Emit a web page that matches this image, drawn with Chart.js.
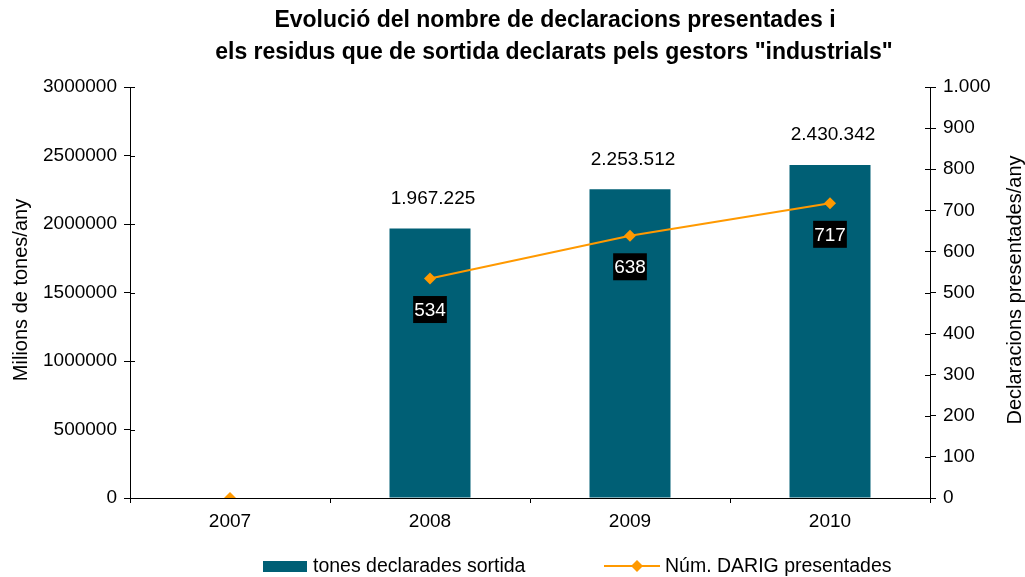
<!DOCTYPE html>
<html>
<head>
<meta charset="utf-8">
<script src="https://cdn.jsdelivr.net/npm/chart.js@4.4.1/dist/chart.umd.min.js"></script>
<style>
  html, body { margin: 0; padding: 0; background: #fff; }
  #wrap { width: 1025px; height: 577px; }
</style>
</head>
<body>
<div id="wrap"><canvas id="myChart" width="1025" height="577"></canvas></div>
<script>
// data
var years = ['2007', '2008', '2009', '2010'];
var tones = [null, 1967225, 2253512, 2430342];
var darig = [0, 534, 638, 717];
var leftTicks = [0, 500000, 1000000, 1500000, 2000000, 2500000, 3000000];
var rightTicks = [0, 100, 200, 300, 400, 500, 600, 700, 800, 900, 1000];

var titleLines = ['Evolució del nombre de declaracions presentades i',
                  'els residus que de sortida declarats pels gestors "industrials"'];
var leftTitle = 'Milions de tones/any';
var rightTitle = 'Declaracions presentades/any';
var barLabel = 'tones declarades sortida';
var lineLabel = 'Núm. DARIG presentades';

var BAR = '#005F75';
var ORANGE = '#FF9900';
var FONT = '"Liberation Sans", Arial, sans-serif';

function dots(n) {
  return String(n).replace(/\B(?=(\d{3})+(?!\d))/g, '.');
}

var extras = {
  id: 'extras',
  afterDraw: function(chart) {
    var ctx = chart.ctx;
    var area = chart.chartArea;
    var sy = chart.scales.y, sy1 = chart.scales.y1;
    ctx.save();

    // tick marks crossing the value axes (inner half)
    ctx.strokeStyle = '#000';
    ctx.lineWidth = 1;
    leftTicks.forEach(function(v) {
      var p = Math.round(sy.getPixelForValue(v)) + 0.5;
      ctx.beginPath(); ctx.moveTo(area.left, p); ctx.lineTo(area.left + 5, p); ctx.stroke();
    });
    rightTicks.forEach(function(v) {
      var p = Math.round(sy1.getPixelForValue(v)) + 0.5;
      ctx.beginPath(); ctx.moveTo(area.right - 5, p); ctx.lineTo(area.right, p); ctx.stroke();
    });

    // title
    ctx.fillStyle = '#000';
    ctx.font = 'bold 23px ' + FONT;
    ctx.textAlign = 'center';
    ctx.textBaseline = 'middle';
    ctx.fillText(titleLines[0], 555, 21);
    ctx.fillText(titleLines[1], 554, 53);

    // axis titles
    ctx.font = '20px ' + FONT;
    ctx.save();
    ctx.translate(21, 290);
    ctx.rotate(-Math.PI / 2);
    ctx.fillText(leftTitle, 0, 0);
    ctx.restore();
    ctx.save();
    ctx.translate(1015, 290);
    ctx.rotate(-Math.PI / 2);
    ctx.fillText(rightTitle, 0, 0);
    ctx.restore();

    // bar value labels
    ctx.font = '19px ' + FONT;
    var barMeta = chart.getDatasetMeta(1);
    barMeta.data.forEach(function(el, i) {
      if (tones[i] == null) return;
      ctx.fillStyle = '#000';
      ctx.fillText(dots(tones[i]), el.x + 3, el.y - 30);
    });

    // line value labels on black boxes
    var lineMeta = chart.getDatasetMeta(0);
    lineMeta.data.forEach(function(el, i) {
      if (i === 0) return;
      var txt = String(darig[i]);
      var w = ctx.measureText(txt).width + 2;
      var cy = el.y + 31;
      ctx.fillStyle = '#000';
      ctx.fillRect(el.x - w / 2, cy - 13.5, w, 27);
      ctx.fillStyle = '#fff';
      ctx.fillText(txt, el.x, cy + 1);
    });

    // legend
    var ly = 566;
    ctx.fillStyle = BAR;
    ctx.fillRect(263, ly - 5, 44, 11);
    ctx.fillStyle = '#000';
    ctx.textAlign = 'left';
    ctx.font = '19.5px ' + FONT;
    ctx.fillText(barLabel, 313, ly + 1);
    ctx.strokeStyle = ORANGE;
    ctx.lineWidth = 2;
    ctx.beginPath(); ctx.moveTo(604, ly); ctx.lineTo(660, ly); ctx.stroke();
    ctx.fillStyle = ORANGE;
    ctx.beginPath();
    ctx.moveTo(637, ly - 6); ctx.lineTo(643, ly); ctx.lineTo(637, ly + 6); ctx.lineTo(631, ly);
    ctx.closePath(); ctx.fill();
    ctx.fillStyle = '#000';
    ctx.fillText(lineLabel, 665, ly + 1);

    ctx.restore();
  }
};

var chart = new Chart(document.getElementById('myChart'), {
  type: 'bar',
  data: {
    labels: years,
    datasets: [
      {
        type: 'line',
        label: lineLabel,
        data: darig,
        yAxisID: 'y1',
        order: 0,
        borderColor: ORANGE,
        backgroundColor: ORANGE,
        borderWidth: 2,
        pointStyle: 'rectRot',
        pointRadius: 6,
        pointHoverRadius: 6,
        pointBorderWidth: 0,
        tension: 0,
        segment: {
          borderColor: function(c) { return c.p0DataIndex === 0 ? 'rgba(0,0,0,0)' : ORANGE; }
        }
      },
      {
        label: barLabel,
        data: tones,
        yAxisID: 'y',
        order: 1,
        backgroundColor: BAR,
        categoryPercentage: 1,
        barPercentage: 0.405
      }
    ]
  },
  options: {
    responsive: false,
    animation: false,
    layout: { padding: { top: 87, left: 0, right: 0, bottom: 0 } },
    plugins: {
      legend: { display: false },
      title: { display: false },
      tooltip: { enabled: false }
    },
    scales: {
      x: {
        grid: { display: true, offset: true, drawOnChartArea: false, tickLength: 5, color: '#000' },
        border: { display: true, color: '#000', width: 1 },
        ticks: { color: '#000', font: { family: FONT, size: 19 }, padding: 7 },
        afterFit: function(s) { s.height = 79; }
      },
      y: {
        position: 'left',
        min: 0, max: 3000000,
        afterBuildTicks: function(s) { s.ticks = leftTicks.map(function(v) { return { value: v }; }); },
        grid: { display: true, drawOnChartArea: false, tickLength: 6, color: '#000' },
        border: { display: true, color: '#000', width: 1 },
        ticks: { color: '#000', font: { family: FONT, size: 19 }, padding: 7,
                 callback: function(v) { return String(v); } },
        afterFit: function(s) { s.width = 130; }
      },
      y1: {
        position: 'right',
        min: 0, max: 1000,
        afterBuildTicks: function(s) { s.ticks = rightTicks.map(function(v) { return { value: v }; }); },
        grid: { display: true, drawOnChartArea: false, tickLength: 6, color: '#000' },
        border: { display: true, color: '#000', width: 1 },
        ticks: { color: '#000', font: { family: FONT, size: 19 }, padding: 7,
                 callback: function(v) { return dots(v); } },
        afterFit: function(s) { s.width = 95; }
      }
    }
  },
  plugins: [extras]
});
</script>
</body>
</html>
